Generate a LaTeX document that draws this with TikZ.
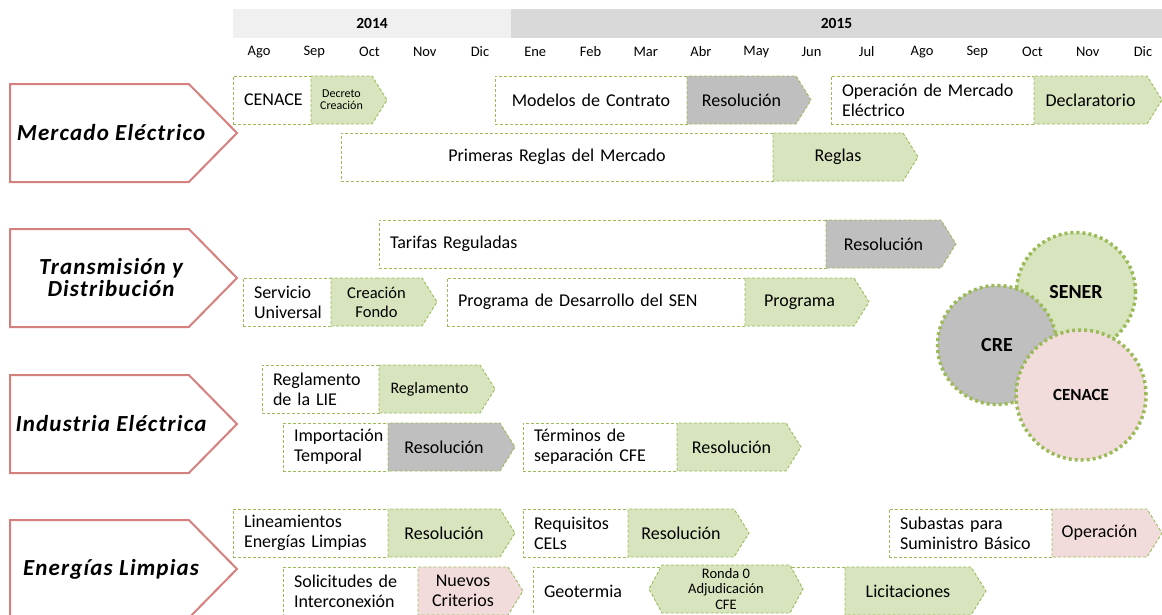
\documentclass[tikz,border=0pt]{standalone}
\usepackage{fontspec}
\setmainfont{Carlito}
\newfontfamily\labelfont[LetterSpace=5]{Carlito}
\usepackage{tikz}
\usetikzlibrary{shapes,positioning}
\definecolor{tgreen}{RGB}{215,228,189}
\definecolor{tgray}{RGB}{191,191,191}
\definecolor{tpink}{RGB}{242,220,219}
\definecolor{dashgreen}{RGB}{155,187,89}
\definecolor{chevred}{RGB}{214,128,126}
\definecolor{year1}{RGB}{240,240,240}
\definecolor{year2}{RGB}{217,217,217}
\tikzstyle{rowlabel} = [signal, signal to=east, signal pointer angle=91, draw=chevred, line width=2pt, fill=white, minimum width=227pt, minimum height=98pt, inner sep=0pt]
\tikzstyle{rowtext} = [inner sep=0pt, align=center, font=\labelfont\bfseries\itshape\fontsize{23}{22}\selectfont]
\tikzstyle{yearband} = [rectangle, minimum height=29pt, inner sep=0pt, outer sep=0pt, font=\bfseries\fontsize{15.5}{16}\selectfont]
\tikzstyle{month} = [rectangle, minimum width=55.25pt, inner sep=0pt, outer sep=0pt, font=\fontsize{14.5}{16}\selectfont]
\tikzstyle{task} = [rectangle, draw=dashgreen, dash pattern=on 3pt off 2pt, line width=0.9pt, fill=white, minimum height=48pt, inner xsep=11pt, inner ysep=0pt, outer sep=0pt, align=left, text width=#1, font=\fontsize{18}{20}\selectfont]
\tikzstyle{tag} = [signal, signal to=east, signal pointer angle=116, draw=dashgreen, dash pattern=on 3pt off 2pt, line width=0.9pt, minimum height=48pt, minimum width=#1, inner sep=0pt, outer sep=0pt, align=center, font=\fontsize{18}{20}\selectfont]
\tikzstyle{agency} = [circle, draw=dashgreen, line width=3.5pt, dash pattern=on 3pt off 3pt, inner sep=0pt, font=\bfseries\fontsize{20}{22}\selectfont]

\begin{document}
\begin{tikzpicture}[x=1pt, y=-1pt]
\useasboundingbox (0,0) rectangle (1162,614);

% header =============================

\node[yearband, fill=year1, minimum width=278pt, anchor=north west] (y14) at (233,9) {2014};
\node[yearband, fill=year2, minimum width=651pt, right=0pt of y14] (y15) {2015};

\node[month] (m1) at (259,52) {Ago};
\node[month, right=0pt of m1] (m2) {Sep};
\node[month, right=0pt of m2] (m3) {Oct};
\node[month, right=0pt of m3] (m4) {Nov};
\node[month, right=0pt of m4] (m5) {Dic};
\node[month, right=0pt of m5] (m6) {Ene};
\node[month, right=0pt of m6] (m7) {Feb};
\node[month, right=0pt of m7] (m8) {Mar};
\node[month, right=0pt of m8] (m9) {Abr};
\node[month, right=0pt of m9] (m10) {May};
\node[month, right=0pt of m10] (m11) {Jun};
\node[month, right=0pt of m11] (m12) {Jul};
\node[month, right=0pt of m12] (m13) {Ago};
\node[month, right=0pt of m13] (m14) {Sep};
\node[month, right=0pt of m14] (m15) {Oct};
\node[month, right=0pt of m15] (m16) {Nov};
\node[month, right=0pt of m16] (m17) {Dic};

% rows =============================

\node[rowlabel, anchor=west] (mercado) at (9,133) {};
\node[rowlabel, anchor=west] (transm) at (9,278) {};
\node[rowlabel, anchor=west] (industria) at (9,424) {};
\node[rowlabel, anchor=west] (limpias) at (9,569) {};
\node[rowtext] (tmercado) at ([xshift=102pt]mercado.west) {Mercado Eléctrico};
\node[rowtext] (ttransm) at ([xshift=102pt]transm.west) {Transmisión y\\Distribución};
\node[rowtext] (tindustria) at ([xshift=102pt]industria.west) {Industria Eléctrica};
\node[rowtext] (tlimpias) at ([xshift=102pt]limpias.west) {Energías Limpias};

% mercado electrico
\node[task=56pt, anchor=north west] (cenace) at (233,76) {CENACE};
\node[tag=76pt, fill=tgreen, right=0pt of cenace, font=\fontsize{12}{12}\selectfont] (dcenace) {Decreto\\Creación};
\node[task=170pt, anchor=north west, align=center] (modelos) at (495,76) {Modelos de Contrato};
\node[tag=124pt, fill=tgray, right=0pt of modelos] (rmodelos) {Resolución};
\node[task=181pt, anchor=north west] (operacion) at (831,76) {Operación de Mercado\\Eléctrico};
\node[tag=128pt, fill=tgreen, right=0pt of operacion] (doperacion) {Declaratorio};
\node[task=410pt, anchor=north west, align=center] (reglas) at (341,133) {Primeras Reglas del Mercado};
\node[tag=145pt, fill=tgreen, right=0pt of reglas] (rreglas) {Reglas};

% transmision y distribucion
\node[task=425pt, anchor=north west] (tarifas) at (379,220) {Tarifas Reguladas};
\node[tag=130pt, fill=tgray, right=0pt of tarifas] (rtarifas) {Resolución};
\node[task=66pt, anchor=north west] (servicio) at (243,278) {Servicio\\Universal};
\node[tag=106pt, fill=tgreen, right=0pt of servicio, font=\fontsize{16.5}{19}\selectfont] (fservicio) {Creación\\Fondo};
\node[task=276pt, anchor=north west] (programa) at (447,278) {Programa de Desarrollo del SEN};
\node[tag=124pt, fill=tgreen, right=0pt of programa] (pprograma) {Programa};

% industria electrica
\node[task=95pt, anchor=north west] (reglamento) at (262,365) {Reglamento\\de la LIE};
\node[tag=116pt, fill=tgreen, right=0pt of reglamento, font=\fontsize{16}{18}\selectfont] (rreglamento) {Reglamento};
\node[task=83pt, anchor=north west] (importacion) at (283,423) {Importación\\Temporal};
\node[tag=127pt, fill=tgray, right=0pt of importacion] (rimportacion) {Resolución};
\node[task=132pt, anchor=north west] (terminos) at (523,423) {Términos de\\separación CFE};
\node[tag=124pt, fill=tgreen, right=0pt of terminos] (rterminos) {Resolución};

% energias limpias
\node[task=133pt, anchor=north west] (lineam) at (233,509) {Lineamientos\\Energías Limpias};
\node[tag=127pt, fill=tgreen, right=0pt of lineam] (rlineam) {Resolución};
\node[task=83pt, anchor=north west] (requisitos) at (523,509) {Requisitos\\CELs};
\node[tag=121pt, fill=tgreen, right=0pt of requisitos] (rrequisitos) {Resolución};
\node[task=141pt, anchor=north west] (subastas) at (889,509) {Subastas para\\Suministro Básico};
\node[tag=110pt, fill=tpink, right=0pt of subastas] (osubastas) {Operación};
\node[task=113pt, anchor=north west] (solicitudes) at (283,567) {Solicitudes de\\Interconexión};
\node[tag=105pt, fill=tpink, right=0pt of solicitudes] (nsolicitudes) {Nuevos\\Criterios};
\node[task=290pt, anchor=north west] (geotermia) at (533,567) {Geotermia};
\node[tag=141pt, fill=tgreen, right=0pt of geotermia] (lgeotermia) {Licitaciones};
\node[tag=154pt, signal to=east and west, signal pointer angle=123, fill=tgreen, font=\fontsize{14.5}{15.5}\selectfont] (ronda) at (726,589) {Ronda 0\\Adjudicación\\CFE};

% agencies =============================

\node[agency, fill=tgreen, minimum size=119pt] (sener) at (1076,292) {SENER};
\node[agency, fill=tgray, minimum size=119pt] (cre) at (997,345) {CRE};
\node[agency, fill=tpink, minimum size=130pt, font=\bfseries\fontsize{17}{19}\selectfont] (cenacec) at (1081,395) {CENACE};

\end{tikzpicture}
\end{document}
